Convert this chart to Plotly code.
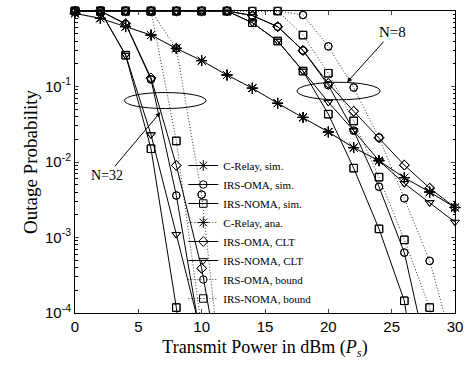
import plotly.graph_objects as go

# ---------------- data ----------------
snr_db = [0, 2, 4, 6, 8, 10, 12, 14, 16, 18, 20, 22, 24, 26, 28, 30]

c_relay = [0.93, 0.80, 0.62, 0.48, 0.32, 0.22, 0.142, 0.095, 0.060, 0.039,
           0.025, 0.0155, 0.0104, 0.0062, 0.0040, 0.0025]

# N = 32
n32_oma_sim = [1, 1, 0.67, 0.124, 0.0036, 4e-5] + [None] * 10
n32_noma_sim = [1, 1, 0.26, 0.015, 1.18e-4, 1e-7] + [None] * 10
n32_oma_clt = [1, 1, 0.68, 0.13, 0.009, 3.9e-4, 5e-6] + [None] * 9
n32_noma_clt = [1, 1, 0.26, 0.023, 0.0011, 5e-5] + [None] * 10
n32_oma_bnd = [1, 1, 1, 1, 0.32, 0.0037, 3e-6] + [None] * 9
n32_noma_bnd = [1, 1, 1, 1, 0.019, 6e-5] + [None] * 10

# N = 8
n8_oma_sim = [1] * 7 + [0.87, 0.62, 0.30, 0.104, 0.026, 0.0047, 0.00063, 2e-5, None]
n8_noma_sim = [1] * 7 + [0.70, 0.40, 0.16, 0.043, 0.0083, 0.0013, 0.000145, 1e-6, None]
n8_oma_clt = [1] * 7 + [0.87, 0.62, 0.30, 0.11, 0.047, 0.021, 0.0091, 0.0045, 0.0025]
n8_noma_clt = [1] * 7 + [0.70, 0.40, 0.16, 0.062, 0.026, 0.0104, 0.0052, 0.0029, 0.0016]
n8_oma_bnd = [1] * 9 + [0.885, 0.34, 0.097, 0.021, 0.0033, 0.00049, 3e-5]
n8_noma_bnd = [1] * 9 + [0.48, 0.15, 0.035, 0.0063, 0.00093, 0.000118, 1e-6]

x_ticks = [0, 5, 10, 15, 20, 25, 30]
y_ticks = [1e-4, 1e-3, 1e-2, 1e-1, 1]
y_ticktext = ["10<sup>-4</sup>", "10<sup>-3</sup>", "10<sup>-2</sup>",
              "10<sup>-1</sup>", "10<sup>0</sup>"]

DOT = "1px,2px"
series = [
    ("C-Relay, sim.", [c_relay], "asterisk-open", "solid"),
    ("IRS-OMA, sim.", [n32_oma_sim, n8_oma_sim], "circle-open", "solid"),
    ("IRS-NOMA, sim.", [n32_noma_sim, n8_noma_sim], "square-open", "solid"),
    ("C-Relay, ana.", [c_relay], "asterisk-open", DOT),
    ("IRS-OMA, CLT", [n32_oma_clt, n8_oma_clt], "diamond-open", "solid"),
    ("IRS-NOMA, CLT", [n32_noma_clt, n8_noma_clt], "triangle-down-open", "solid"),
    ("IRS-OMA, bound", [n32_oma_bnd, n8_oma_bnd], "circle-open", DOT),
    ("IRS-NOMA, bound", [n32_noma_bnd, n8_noma_bnd], "square-open", DOT),
]

SERIF = "Liberation Serif, Times New Roman, serif"
SANS = "Liberation Sans, Arial, sans-serif"

fig = go.Figure()
YMIN = 1e-4
for name, curves, sym, dash in series:
    for i, ys in enumerate(curves):
        msize = 9 if sym.startswith("asterisk") else 7.5
        lcol = "black" if dash == "solid" else "#333333"
        fig.add_trace(go.Scatter(
            x=snr_db, y=ys, mode="lines+markers", name=name,
            legendgroup=name, showlegend=(i == 0),
            line=dict(color=lcol, width=1, dash=dash),
            marker=dict(symbol=sym, size=msize, color="black",
                        line=dict(width=1, color="black")),
        ))
        # unclipped markers for points inside the axis range
        xm = [xv for xv, yv in zip(snr_db, ys) if yv is not None and yv >= YMIN]
        ym = [yv for yv in ys if yv is not None and yv >= YMIN]
        fig.add_trace(go.Scatter(
            x=xm, y=ym, mode="markers", showlegend=False, legendgroup=name,
            cliponaxis=False, hoverinfo="skip",
            marker=dict(symbol=sym, size=msize, color="black",
                        line=dict(width=1, color="black")),
        ))

# ellipses
fig.add_shape(type="circle", xref="paper", yref="paper",
              x0=0.13, x1=0.345, y0=0.677, y1=0.730,
              line=dict(color="black", width=1))
fig.add_shape(type="circle", xref="paper", yref="paper",
              x0=0.584, x1=0.803, y0=0.706, y1=0.764,
              line=dict(color="black", width=1))

# annotations
fig.add_annotation(xref="paper", yref="paper", x=0.2247, y=0.665,
                   text="N=32", showarrow=True, ax=-53, ay=63,
                   arrowhead=2, arrowsize=1, arrowwidth=1, arrowcolor="black",
                   font=dict(family=SERIF, size=14, color="black"))
fig.add_annotation(xref="paper", yref="paper", x=0.716, y=0.764,
                   text="N=8", showarrow=True, ax=45, ay=-50,
                   arrowhead=2, arrowsize=1, arrowwidth=1, arrowcolor="black",
                   font=dict(family=SERIF, size=15, color="black"))

minor_vals = [m * 10 ** e for e in range(-4, 0) for m in range(2, 10)]

fig.update_layout(
    width=473, height=365,
    margin=dict(l=75, r=13, t=10, b=52),
    paper_bgcolor="white", plot_bgcolor="white",
    showlegend=True,
    legend=dict(x=0.285, y=0.0, xanchor="left", yanchor="bottom",
                bgcolor="rgba(0,0,0,0)", borderwidth=0,
                font=dict(family=SERIF, size=11, color="black"),
                itemwidth=30, tracegroupgap=0),
    xaxis=dict(range=[0, 30], tickvals=x_ticks, ticks="inside", ticklen=4,
               showline=True, linecolor="black", linewidth=1, mirror="ticks",
               showgrid=False, zeroline=False,
               tickfont=dict(family=SANS, size=15, color="black"),
               title=dict(text="Transmit Power in dBm (<i>P</i><sub><i>s</i></sub>)",
                          font=dict(family=SERIF, size=18, color="black"),
                          standoff=6)),
    yaxis=dict(type="log", range=[-4, 0], tickvals=y_ticks, ticktext=y_ticktext,
               ticks="inside", ticklen=4,
               minor=dict(ticks="inside", ticklen=2.5, tickvals=minor_vals,
                          showgrid=False, tickcolor="black"),
               showline=True, linecolor="black", linewidth=1, mirror="ticks",
               showgrid=False, zeroline=False,
               tickfont=dict(family=SANS, size=15, color="black"),
               title=dict(text="Outage Probability",
                          font=dict(family=SERIF, size=19, color="black"),
                          standoff=2)),
)

fig.write_html("out.html")
